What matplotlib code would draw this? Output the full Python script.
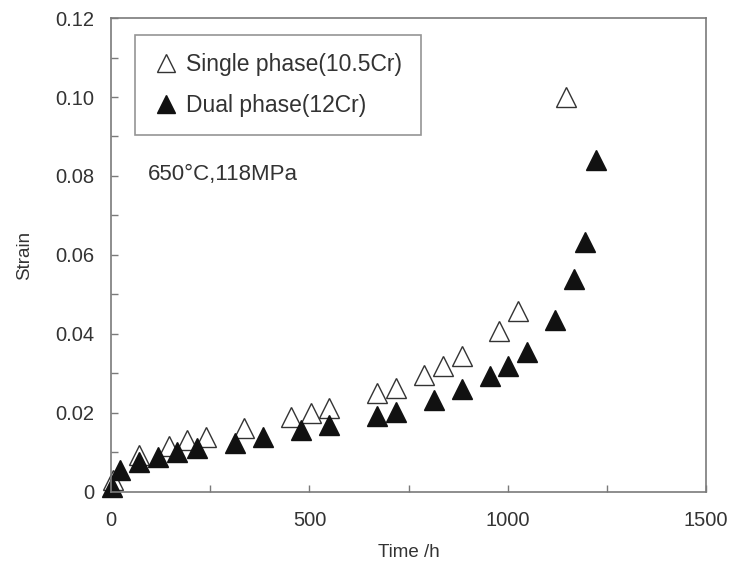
import numpy as np
import matplotlib
matplotlib.use('Agg')
import matplotlib.pyplot as plt
from matplotlib.ticker import MultipleLocator

plt.rcParams['font.family'] = ['Liberation Sans', 'DejaVu Sans']

# Single phase (10.5Cr)
t_single = [5, 71, 145, 192, 240, 335, 454, 503, 550, 670, 718,
            789, 837, 885, 978, 1025, 1147]
s_single = [0.003, 0.0094, 0.0117, 0.0132, 0.0138, 0.0161, 0.0189, 0.0201, 0.0212,
            0.0251, 0.0262, 0.0297, 0.0319, 0.0344, 0.0408, 0.0458, 0.1000]

# Dual phase (12Cr)
t_dual = [3, 23, 71, 119, 167, 216, 313, 382, 479, 550, 670, 718,
          813, 884, 955, 1001, 1049, 1119, 1167, 1195, 1223]
s_dual = [0.0012, 0.0056, 0.0077, 0.0089, 0.0100, 0.0111, 0.0125, 0.0140, 0.0157,
          0.0170, 0.0192, 0.0203, 0.0232, 0.0260, 0.0294, 0.0320, 0.0355,
          0.0435, 0.0539, 0.0633, 0.0841]

txt = '#333333'
spine = '#7a7a7a'

fig = plt.figure(figsize=(7.31, 5.72), dpi=100)
ax = fig.add_axes([0.152, 0.140, 0.814, 0.8285])

ax.plot(t_single, s_single, '^', ms=14, mfc='white', mec='#333333', mew=1.0,
        linestyle='none', label='Single phase(10.5Cr)', clip_on=False)
ax.plot(t_dual, s_dual, '^', ms=14, mfc='#111111', mec='#111111', mew=1.0,
        linestyle='none', label='Dual phase(12Cr)', clip_on=False)

ax.set_xlim(0, 1500)
ax.set_ylim(0, 0.12)
ax.xaxis.set_major_locator(MultipleLocator(500))
ax.xaxis.set_minor_locator(MultipleLocator(250))
ax.yaxis.set_minor_locator(MultipleLocator(0.01))
ax.set_yticks([0, 0.02, 0.04, 0.06, 0.08, 0.10, 0.12])
ax.set_yticklabels(['0', '0.02', '0.04', '0.06', '0.08', '0.10', '0.12'])

ax.tick_params(which='both', direction='in', colors=spine, labelcolor=txt,
               labelsize=14.5, width=1.0)
ax.tick_params(which='major', length=5)
ax.tick_params(which='minor', length=5)
ax.tick_params(axis='y', pad=12)
ax.tick_params(axis='x', pad=14)
for s in ax.spines.values():
    s.set_color(spine)
    s.set_linewidth(1.2)

ax.set_xlabel('Time /h', fontsize=13.5, color=txt, labelpad=10)
ax.set_ylabel('Strain', fontsize=13.5, color=txt, labelpad=16)

leg = ax.legend(loc='upper left', bbox_to_anchor=(0.04, 0.964), fontsize=16.5,
                frameon=True, fancybox=False, edgecolor=spine, handletextpad=0.35,
                borderpad=0.8, labelspacing=0.75, handlelength=1.1, markerscale=0.9,
                borderaxespad=0)
leg.get_frame().set_linewidth(1.2)
for t in leg.get_texts():
    t.set_color(txt)

ax.text(0.062, 0.669, '650°C,118MPa', transform=ax.transAxes, fontsize=16,
        color=txt, va='center', ha='left')

fig.savefig('out.png', dpi=100)
